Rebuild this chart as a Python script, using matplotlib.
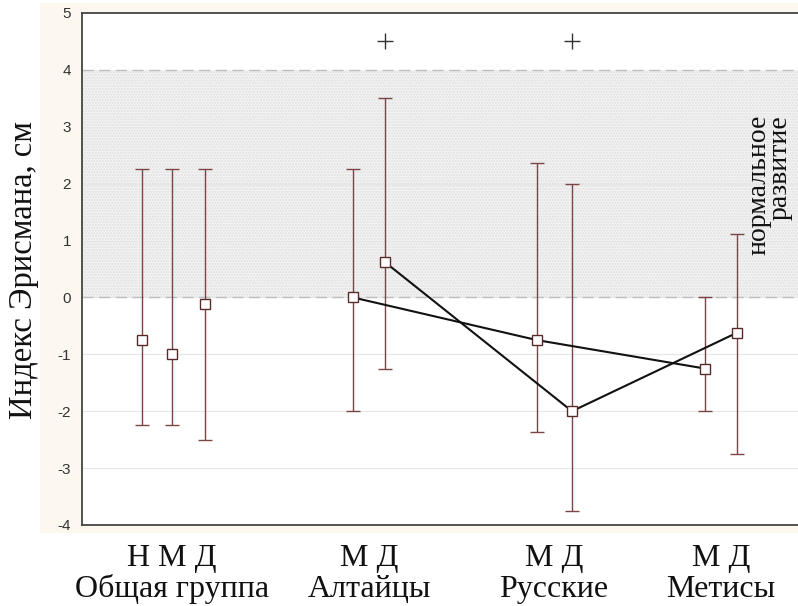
import matplotlib
matplotlib.use("Agg")
import matplotlib.pyplot as plt
from matplotlib.patches import Rectangle

# ---- data ----
labels_pos = ["Н", "М", "Д", "М", "Д", "М", "Д", "М", "Д"]
xpos = [60, 90, 123, 271, 303, 455, 490, 623, 655]
means = [-0.75, -1.0, -0.12, 0.0, 0.62, -0.75, -2.0, -1.25, -0.62]
lows = [-2.25, -2.25, -2.5, -2.0, -1.25, -2.37, -3.75, -2.0, -2.75]
highs = [2.25, 2.25, 2.25, 2.25, 3.5, 2.37, 2.0, 0.0, 1.12]
line_m_idx = [3, 5, 7]
line_d_idx = [4, 6, 8]
plus_idx = [4, 6]
plus_y = [4.5, 4.5]
group_names = ["Общая группа", "Алтайцы", "Русские", "Метисы"]
group_sub = ["Н М Д", "М Д", "М Д", "М Д"]
group_center = [90, 287, 472, 639]
norm_low, norm_high = 0, 4
ylabel = "Индекс Эрисмана, см"
norm_text = "нормальное\nразвитие"

W, H = 798, 606
fig = plt.figure(figsize=(W / 100, H / 100), dpi=100)
fig.patch.set_facecolor("white")
# cream backdrop
fig.add_artist(Rectangle((40 / W, 1 - 533 / H), 1 - 40 / W, (533 - 3) / H,
                         transform=fig.transFigure, facecolor="#fcf8ef",
                         edgecolor="none", zorder=0))

ax = fig.add_axes([82 / W, 1 - 525 / H, 1 - 82 / W, (525 - 13) / H])
ax.set_facecolor("white")
ax.set_xlim(0, 716)
ax.set_ylim(-4, 5)

# grid
for y in range(-3, 4):
    ax.axhline(y, color="#e6e6e6", lw=0.8, zorder=1)

# normal development band
ax.axhspan(norm_low, norm_high, facecolor="#f4f4f4", edgecolor="#dedede",
           hatch="......", lw=0, zorder=0.5)
for y in (norm_low, norm_high):
    ax.axhline(y, color="#bdbdbd", lw=1.0, ls=(0, (8, 4)), zorder=1.5)

err_c = "#7a4545"
for x, m, lo, hi in zip(xpos, means, lows, highs):
    ax.errorbar([x], [m], yerr=[[m - lo], [hi - m]], fmt="none",
                ecolor=err_c, elinewidth=1.0, capsize=5, capthick=1.0,
                zorder=3)

ax.plot([xpos[i] for i in line_m_idx], [means[i] for i in line_m_idx],
        color="#111111", lw=1.5, zorder=4)
ax.plot([xpos[i] for i in line_d_idx], [means[i] for i in line_d_idx],
        color="#111111", lw=1.5, zorder=4)

ax.plot(xpos, means, ls="none", marker="s", ms=6.5, mfc="white",
        mec="#5a2a2a", mew=1.0, zorder=5)

ax.plot([xpos[i] for i in plus_idx], plus_y, ls="none", marker="+",
        ms=12, mew=1.0, color="#333333", zorder=5)

ax.text(0.992, 0.664, norm_text, transform=ax.transAxes, rotation=90,
        ha="right", va="center", family="Liberation Serif", fontsize=20,
        linespacing=0.8, color="#111111", zorder=6)

# axes styling
ax.set_yticks(range(-4, 6))
ax.set_yticklabels([str(v) for v in range(-4, 6)],
                   family="Liberation Sans", fontsize=11, color="#333333")
ax.tick_params(axis="y", length=0, pad=8)
ax.set_xticks([])
for s in ("left", "top", "bottom"):
    ax.spines[s].set_color("#444444")
    ax.spines[s].set_linewidth(1.3)
ax.spines["right"].set_visible(False)

for gc, sub, name in zip(group_center, group_sub, group_names):
    ax.text(gc, -4.72, sub, ha="center", va="baseline",
            family="Liberation Serif", fontsize=23, color="#111111")
    ax.text(gc, -5.27, name, ha="center", va="baseline",
            family="Liberation Serif", fontsize=23, color="#111111")

fig.text(24 / W, 1 - 270 / H, ylabel, rotation=90, ha="center", va="center",
         family="Liberation Serif", fontsize=23.5, color="#111111")

fig.savefig("out.png", dpi=100)
